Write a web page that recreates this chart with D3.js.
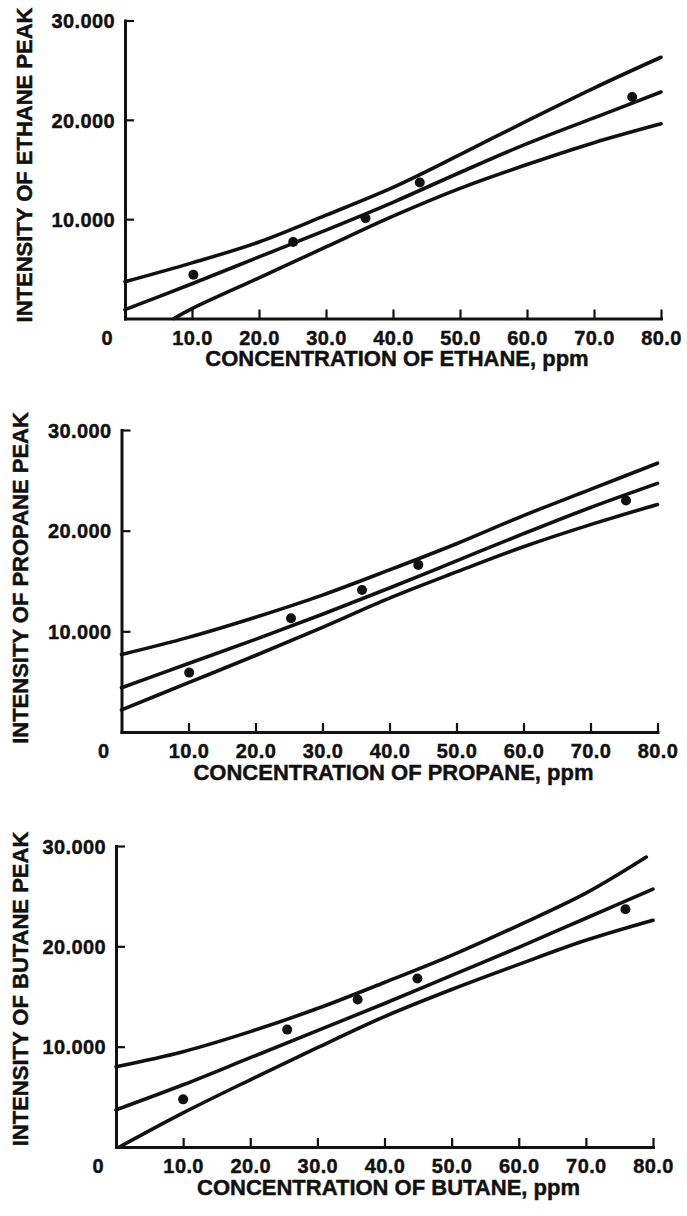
<!DOCTYPE html>
<html>
<head>
<meta charset="utf-8">
<script src="https://cdn.jsdelivr.net/npm/d3@7"></script>
<style>
  body { margin: 0; background: #fff; }
  svg { display: block; }
  text { font-family: "Liberation Sans", Arial, sans-serif; font-weight: bold; fill: #111; stroke: #111; stroke-width: 0.45px; }
</style>
</head>
<body>
<svg id="chart" width="687" height="1216"></svg>
<script>
// Axis ticks shared by all three calibration plots
const concTicks = [10, 20, 30, 40, 50, 60, 70, 80];
const intensityTicks = [10000, 20000, 30000];

// Ethane: measured standards and the fitted line with its confidence band
const ethaneConc = [10.2, 25.1, 35.9, 44.0, 75.7];
const ethaneIntensity = [4400, 7700, 10100, 13700, 22300];
const ethaneUpper = [[0, 3700], [10, 5600], [20, 7700], [30, 10400], [40, 13200], [50, 16500], [60, 19900], [70, 23200], [80, 26300]];
const ethaneFit = [[0, 900], [10, 3500], [20, 6200], [30, 8900], [40, 11700], [50, 14700], [60, 17600], [70, 20200], [80, 22800]];
const ethaneLower = [[7.3, 0], [10, 1000], [20, 4100], [30, 7200], [40, 10300], [50, 13100], [60, 15500], [70, 17700], [80, 19600]];

// Propane
const propaneConc = [10.1, 25.3, 35.9, 44.3, 75.3];
const propaneIntensity = [5900, 11300, 14100, 16600, 23000];
const propaneUpper = [[0, 7700], [10, 9400], [20, 11400], [30, 13600], [40, 16100], [50, 18700], [60, 21500], [70, 24100], [80, 26700]];
const propaneFit = [[0, 4400], [10, 6800], [20, 9200], [30, 11700], [40, 14300], [50, 17000], [60, 19700], [70, 22300], [80, 24700]];
const propaneLower = [[0, 2200], [10, 4900], [20, 7600], [30, 10400], [40, 13300], [50, 15900], [60, 18400], [70, 20600], [80, 22600]];

// Butane
const butaneConc = [10.0, 25.5, 36.0, 44.9, 75.9];
const butaneIntensity = [4750, 11700, 14700, 16800, 23700];
const butaneUpper = [[0, 8000], [10, 9500], [20, 11500], [30, 13800], [40, 16400], [50, 19100], [60, 22100], [70, 25300], [79, 28900]];
const butaneFit = [[0, 3700], [10, 6200], [20, 8900], [30, 11600], [40, 14300], [50, 17100], [60, 19900], [70, 22800], [80, 25700]];
const butaneLower = [[0.5, 0], [10, 3400], [20, 6700], [30, 9900], [40, 13000], [50, 15700], [60, 18200], [70, 20600], [80, 22600]];

const gasNames = ["ETHANE", "PROPANE", "BUTANE"];

const panels = [
  { gas: gasNames[0], conc: ethaneConc, intensity: ethaneIntensity, curves: [ethaneUpper, ethaneFit, ethaneLower] },
  { gas: gasNames[1], conc: propaneConc, intensity: propaneIntensity, curves: [propaneUpper, propaneFit, propaneLower] },
  { gas: gasNames[2], conc: butaneConc, intensity: butaneIntensity, curves: [butaneUpper, butaneFit, butaneLower] }
];

// Plot frames on the page
const frames = [
  { left: 125, right: 661, bottom: 318.5, top: 20.5, titleX: 24, titleY: 165 },
  { left: 121.5, right: 657.5, bottom: 732, top: 430, titleX: 20, titleY: 578 },
  { left: 116, right: 653, bottom: 1147, top: 846, titleX: 20, titleY: 989 }
];

const dotLocale = d3.formatLocale({ decimal: ",", thousands: ".", grouping: [3], currency: ["", ""] });
const fmtIntensity = dotLocale.format(",");
const fmtConc = d3.format(".1f");

const svg = d3.select("#chart");

panels.forEach((p, i) => {
  const f = frames[i];
  const x = d3.scaleLinear().domain([0, 80]).range([f.left, f.right]);
  const y = d3.scaleLinear().domain([0, 30000]).range([f.bottom, f.top]);
  const g = svg.append("g");

  // x axis: ticks point up into the plot
  const xAxis = g.append("g")
    .attr("transform", `translate(0,${f.bottom})`)
    .call(d3.axisBottom(x).tickValues(concTicks).tickSizeInner(-9).tickSizeOuter(0).tickPadding(12).tickFormat(fmtConc));

  // y axis: ticks point right into the plot
  const yAxis = g.append("g")
    .attr("transform", `translate(${f.left},0)`)
    .call(d3.axisLeft(y).tickValues(intensityTicks).tickSizeInner(-9).tickSizeOuter(0).tickPadding(10).tickFormat(fmtIntensity));

  [xAxis, yAxis].forEach(a => {
    a.attr("font-family", null).attr("font-size", null);
    a.select(".domain").attr("stroke", "#111").attr("stroke-width", 3).attr("stroke-linecap", "square");
    a.selectAll(".tick line").attr("stroke", "#111").attr("stroke-width", 2.2);
    a.selectAll(".tick text").style("font-size", "20px").style("letter-spacing", "0.4px").attr("fill", "#111");
  });
  yAxis.selectAll(".tick text").attr("dy", "0.36em");

  // shared origin label
  g.append("text")
    .attr("x", x(0) - 18)
    .attr("y", f.bottom + 12)
    .attr("dy", "0.71em")
    .attr("text-anchor", "middle")
    .style("font-size", "20px")
    .text("0");

  // band and fitted line
  const line = d3.line()
    .x(d => x(d[0]))
    .y(d => y(d[1]))
    .curve(d3.curveCatmullRom.alpha(0.5));

  g.selectAll("path.curve")
    .data(p.curves)
    .join("path")
    .attr("class", "curve")
    .attr("d", line)
    .attr("fill", "none")
    .attr("stroke", "#111")
    .attr("stroke-width", 3.6)
    .attr("stroke-linecap", "round");

  // measured standards
  g.selectAll("circle")
    .data(p.conc.map((c, k) => [c, p.intensity[k]]))
    .join("circle")
    .attr("cx", d => x(d[0]))
    .attr("cy", d => y(d[1]))
    .attr("r", 5)
    .attr("fill", "#111");

  // axis titles
  g.append("text")
    .attr("x", (f.left + f.right) / 2 + 4)
    .attr("y", f.bottom + 40)
    .attr("dy", "0.36em")
    .attr("text-anchor", "middle")
    .style("font-size", "22px")
    .text(`CONCENTRATION OF ${p.gas}, ppm`);

  g.append("text")
    .attr("transform", `translate(${f.titleX},${f.titleY}) rotate(-90)`)
    .attr("dy", "0.36em")
    .attr("text-anchor", "middle")
    .style("font-size", "22px")
    .text(`INTENSITY OF ${p.gas} PEAK`);
});
</script>
</body>
</html>
